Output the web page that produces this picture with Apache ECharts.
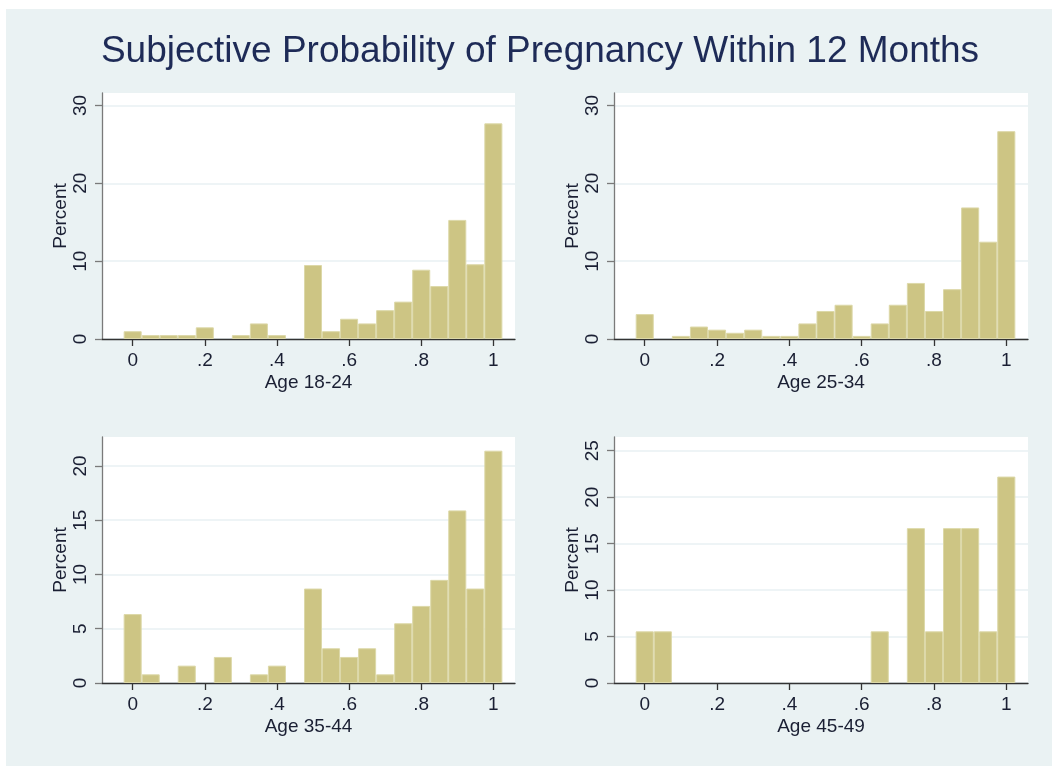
<!DOCTYPE html>
<html>
<head>
<meta charset="utf-8">
<script src="https://cdn.jsdelivr.net/npm/echarts@6/dist/echarts.min.js"></script>
<style>
  html, body { margin: 0; padding: 0; background: #ffffff; }
  #chart { position: absolute; left: 6px; top: 9px; width: 1046px; height: 757px; }
</style>
</head>
<body>
<div id="chart"></div>
<script>
// Bin centers (probability), width 0.05
const bins = [0, 0.05, 0.1, 0.15, 0.2, 0.25, 0.3, 0.35, 0.4, 0.45, 0.5,
              0.55, 0.6, 0.65, 0.7, 0.75, 0.8, 0.85, 0.9, 0.95, 1];

// Percent per bin
const age1824 = [1.0, 0.5, 0.5, 0.5, 1.5, 0, 0.5, 2.0, 0.5, 0, 9.5,
                 1.0, 2.6, 2.0, 3.7, 4.8, 8.9, 6.8, 15.3, 9.6, 27.7];
const age2534 = [3.2, 0, 0.4, 1.6, 1.2, 0.8, 1.2, 0.4, 0.4, 2.0, 3.6,
                 4.4, 0.4, 2.0, 4.4, 7.2, 3.6, 6.4, 16.9, 12.5, 26.7];
const age3544 = [6.35, 0.8, 0, 1.6, 0, 2.4, 0, 0.8, 1.6, 0, 8.7,
                 3.2, 2.4, 3.2, 0.8, 5.5, 7.1, 9.5, 15.9, 8.7, 21.4];
const age4549 = [5.56, 5.56, 0, 0, 0, 0, 0, 0, 0, 0, 0,
                 0, 0, 5.56, 0, 16.67, 5.56, 16.67, 16.67, 5.56, 22.22];

const panelNames = ['Age 18-24', 'Age 25-34', 'Age 35-44', 'Age 45-49'];
const xTicks = [0, 0.2, 0.4, 0.6, 0.8, 1];
const yTicks1 = [0, 10, 20, 30];
const yTicks2 = [0, 10, 20, 30];
const yTicks3 = [0, 5, 10, 15, 20];
const yTicks4 = [0, 5, 10, 15, 20, 25];
const yMax = [31.6, 31.6, 22.66, 26.48];

const panels = [age1824, age2534, age3544, age4549];
const yTicks = [yTicks1, yTicks2, yTicks3, yTicks4];

const FONT = 'Liberation Sans, Arial, sans-serif';
const TXT = '#1a1f33';
const grids = [
  { left: 96,  top: 84,  width: 413, height: 246 },
  { left: 608, top: 84,  width: 414, height: 246 },
  { left: 96,  top: 428, width: 413, height: 246 },
  { left: 608, top: 428, width: 414, height: 246 }
].map(g => Object.assign(g, { show: true, backgroundColor: '#ffffff', borderWidth: 0, containLabel: false }));

function fmtX(v) {
  if (v === 0) return '0';
  if (v === 1) return '1';
  return String(v).replace(/^0\./, '.');
}

const xAxes = panels.map((p, i) => ({
  type: 'value', gridIndex: i, min: -0.085, max: 1.06,
  name: panelNames[i], nameLocation: 'middle', nameGap: 34,
  nameTextStyle: { fontFamily: FONT, fontSize: 19, color: TXT },
  axisLine: { show: true, onZero: false, lineStyle: { color: '#333333', width: 1.3 } },
  axisTick: { show: true, length: 7, customValues: xTicks, lineStyle: { color: '#333333', width: 1.3 } },
  axisLabel: { customValues: xTicks, formatter: fmtX, margin: 12,
               fontFamily: FONT, fontSize: 19, color: TXT },
  splitLine: { show: false }
}));

const yAxes = panels.map((p, i) => ({
  type: 'value', gridIndex: i, min: 0, max: yMax[i],
  name: 'Percent', nameLocation: 'middle', nameGap: 32, nameRotate: 90,
  nameTextStyle: { fontFamily: FONT, fontSize: 19, color: TXT },
  axisLine: { show: true, onZero: false, lineStyle: { color: '#7a7a7a', width: 1.3 } },
  axisTick: { show: true, length: 7, customValues: yTicks[i], lineStyle: { color: '#7a7a7a', width: 1.3 } },
  axisLabel: { customValues: yTicks[i], rotate: 90, margin: 12,
               fontFamily: FONT, fontSize: 19, color: TXT },
  splitLine: { show: true, lineStyle: { color: '#e9f1f3', width: 1.5 } }
}));

const series = panels.map((vals, i) => ({
  type: 'bar', xAxisIndex: i, yAxisIndex: i,
  barWidth: '100%', barCategoryGap: '0%',
  itemStyle: { color: '#cdc584', borderColor: '#dcd8a8', borderWidth: 1 },
  data: bins.map((b, j) => [b, vals[j] === 0 ? '-' : vals[j]]),
  silent: true, animation: false
}));

const chart = echarts.init(document.getElementById('chart'));
chart.setOption({
  backgroundColor: '#eaf2f3',
  animation: false,
  title: {
    text: 'Subjective Probability of Pregnancy Within 12 Months',
    left: 529, top: 19, textAlign: 'center',
    textStyle: { fontFamily: FONT, fontSize: 37, fontWeight: 'normal', color: '#1e2b57' }
  },
  grid: grids,
  xAxis: xAxes,
  yAxis: yAxes,
  series: series
});
</script>
</body>
</html>
